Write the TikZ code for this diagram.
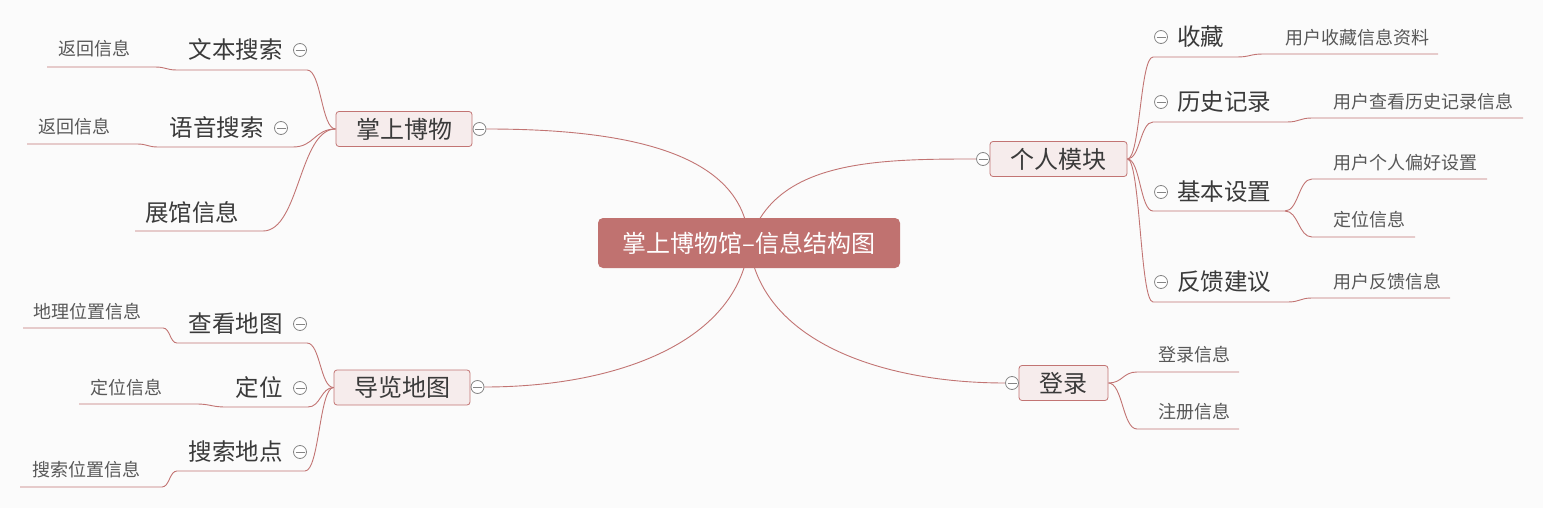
\documentclass[tikz,border=0pt]{standalone}
\usepackage{fontspec}
\setmainfont{Noto Sans CJK SC}
\usetikzlibrary{calc}
\definecolor{bgc}{HTML}{FBFBFB}
\definecolor{linec}{HTML}{C27473}
\definecolor{rootc}{HTML}{C07270}
\definecolor{topicf}{HTML}{F6ECEC}
\definecolor{subt}{HTML}{3A3A3A}
\definecolor{leaft}{HTML}{585858}
\definecolor{foldc}{HTML}{858585}
\pgfdeclarelayer{bglayer}
\pgfdeclarelayer{edgelayer}
\pgfsetlayers{bglayer,edgelayer,main}
\tikzset{
 rootbox/.style={fill=rootc, rounded corners=5pt, text=white, font=\fontsize{24}{24}\selectfont, minimum width=302pt, minimum height=50pt, inner sep=0pt},
 topicbox/.style={fill=topicf, draw=linec, line width=0.8pt, rounded corners=3pt, text=subt, font=\fontsize{24}{24}\selectfont, minimum height=35pt, inner sep=0pt},
 subtext/.style={text=subt, font=\fontsize{23.5}{24}\selectfont, inner sep=0pt},
 leaftext/.style={text=leaft, font=\fontsize{18}{18}\selectfont, inner sep=0pt},
 foldmark/.style={circle, draw=foldc, fill=white, line width=0.8pt, minimum size=13pt, inner sep=0pt,
   path picture={\draw[foldc, line width=0.8pt] ([xshift=-4.5pt]path picture bounding box.center) -- ([xshift=4.5pt]path picture bounding box.center);}},
 link/.style={draw=linec, line width=0.9pt},
 hv/.style={to path={let \p1=(\tikztostart), \p2=(\tikztotarget) in .. controls ({(\x1+\x2)/2},\y1) and ({(\x1+\x2)/2},\y2) .. (\tikztotarget)}},
}
\begin{document}
\begin{tikzpicture}[x=1pt, y=-1pt]
\useasboundingbox (0,0) rectangle (1543,508);
\begin{pgfonlayer}{bglayer}
\fill[bgc] (0,0) rectangle (1543,508);
\end{pgfonlayer}

% root
\node[rootbox] (root) at (749,243) {掌上博物馆–信息结构图};

% topics
\node[topicbox, minimum width=136pt] (t1) at (404,129) {掌上博物};
\node[topicbox, minimum width=137pt] (t2) at (1058.5,159) {个人模块};
\node[topicbox, minimum width=136pt] (t3) at (402,387.5) {导览地图};
\node[topicbox, minimum width=89pt] (t4) at (1063.5,383) {登录};
\node[foldmark] (f1) at (479.5,129) {};
\node[foldmark] (f2) at (983,159) {};
\node[foldmark] (f3) at (477.5,387) {};
\node[foldmark] (f4) at (1012,383) {};

% ---- left top: 掌上博物
\node[subtext, anchor=east] (s11) at (283,50) {文本搜索};
\node[foldmark] (g11) at (300,50) {};
\coordinate (u11s) at (307,70); \coordinate (u11e) at (177,70);
\node[leaftext, anchor=west] (l11) at (58,49) {返回信息};
\coordinate (v11s) at (155,67); \coordinate (v11e) at (47,67);

\node[subtext, anchor=east] (s12) at (264,128) {语音搜索};
\node[foldmark] (g12) at (281,128) {};
\coordinate (u12s) at (293,147); \coordinate (u12e) at (158,147);
\node[leaftext, anchor=west] (l12) at (38,127) {返回信息};
\coordinate (v12s) at (137,144); \coordinate (v12e) at (27,144);

\node[subtext, anchor=west] (s13) at (145,212) {展馆信息};
\coordinate (u13s) at (263,231); \coordinate (u13e) at (135,231);

% ---- left bottom: 导览地图
\node[subtext, anchor=east] (s31) at (283,324) {查看地图};
\node[foldmark] (g31) at (300,324) {};
\coordinate (u31s) at (307,343); \coordinate (u31e) at (177,343);
\node[leaftext, anchor=west] (l31) at (33,312) {地理位置信息};
\coordinate (v31s) at (163,328); \coordinate (v31e) at (23,328);

\node[subtext, anchor=east] (s32) at (283,388) {定位};
\node[foldmark] (g32) at (300,388) {};
\coordinate (u32s) at (308,407); \coordinate (u32e) at (226,407);
\node[leaftext, anchor=west] (l32) at (90,388) {定位信息};
\coordinate (v32s) at (196,404); \coordinate (v32e) at (79,404);

\node[subtext, anchor=east] (s33) at (283,452) {搜索地点};
\node[foldmark] (g33) at (300,452) {};
\coordinate (u33s) at (305,471); \coordinate (u33e) at (177,471);
\node[leaftext, anchor=west] (l33) at (32,470) {搜索位置信息};
\coordinate (v33s) at (162,487); \coordinate (v33e) at (20,487);

% ---- right: 个人模块
\node[foldmark] (g21) at (1161,37) {};
\node[subtext, anchor=west] (s21) at (1177,37) {收藏};
\coordinate (u21s) at (1153,57); \coordinate (u21e) at (1237,57);
\node[leaftext, anchor=west] (l21) at (1285,38) {用户收藏信息资料};
\coordinate (v21s) at (1263,54); \coordinate (v21e) at (1438,54);

\node[foldmark] (g22) at (1161,102) {};
\node[subtext, anchor=west] (s22) at (1177,102) {历史记录};
\coordinate (u22s) at (1153,122); \coordinate (u22e) at (1287,122);
\node[leaftext, anchor=west] (l22) at (1333,102) {用户查看历史记录信息};
\coordinate (v22s) at (1312,118); \coordinate (v22e) at (1523,118);

\node[foldmark] (g23) at (1161,192) {};
\node[subtext, anchor=west] (s23) at (1177,192) {基本设置};
\coordinate (u23s) at (1153,211); \coordinate (u23e) at (1285,211);
\node[leaftext, anchor=west] (l23a) at (1333,163) {用户个人偏好设置};
\coordinate (v23as) at (1312,179); \coordinate (v23ae) at (1487,179);
\node[leaftext, anchor=west] (l23b) at (1333,220) {定位信息};
\coordinate (v23bs) at (1312,237); \coordinate (v23be) at (1415,237);

\node[foldmark] (g24) at (1161,282) {};
\node[subtext, anchor=west] (s24) at (1177,282) {反馈建议};
\coordinate (u24s) at (1153,302); \coordinate (u24e) at (1288,302);
\node[leaftext, anchor=west] (l24) at (1333,282) {用户反馈信息};
\coordinate (v24s) at (1312,298); \coordinate (v24e) at (1450,298);

% ---- 登录
\node[leaftext, anchor=west] (l41) at (1158,355) {登录信息};
\coordinate (v41s) at (1137,372); \coordinate (v41e) at (1239,372);
\node[leaftext, anchor=west] (l42) at (1158,412) {注册信息};
\coordinate (v42s) at (1137,429); \coordinate (v42e) at (1239,429);

\begin{pgfonlayer}{edgelayer}
% root to topics
\draw[link] (root.center) .. controls +(-4,-93) and +(134,0) .. (f1.east);
\draw[link] (root.center) .. controls +(25,-83) and +(-100,0) .. (f2.west);
\draw[link] (root.center) .. controls +(-9,97) and +(136,0) .. (f3.east);
\draw[link] (root.center) .. controls +(11,97) and +(-126,0) .. (f4.west);
% left top
\draw[link] (t1.west) to[hv] (u11s) -- (u11e) to[hv] (v11s) -- (v11e);
\draw[link] (t1.west) to[hv] (u12s) -- (u12e) to[hv] (v12s) -- (v12e);
\draw[link] (t1.west) to[hv] (u13s) -- (u13e);
% left bottom
\draw[link] (t3.west) to[hv] (u31s) -- (u31e) to[hv] (v31s) -- (v31e);
\draw[link] (t3.west) to[hv] (u32s) -- (u32e) to[hv] (v32s) -- (v32e);
\draw[link] (t3.west) to[hv] (u33s) -- (u33e) to[hv] (v33s) -- (v33e);
% right
\draw[link] (t2.east) to[hv] (u21s) -- (u21e) to[hv] (v21s) -- (v21e);
\draw[link] (t2.east) to[hv] (u22s) -- (u22e) to[hv] (v22s) -- (v22e);
\draw[link] (t2.east) to[hv] (u23s) -- (u23e) to[hv] (v23as) -- (v23ae);
\draw[link] (u23e) to[hv] (v23bs) -- (v23be);
\draw[link] (t2.east) to[hv] (u24s) -- (u24e) to[hv] (v24s) -- (v24e);
% 登录
\draw[link] (t4.east) to[hv] (v41s) -- (v41e);
\draw[link] (t4.east) to[hv] (v42s) -- (v42e);
\end{pgfonlayer}
\end{tikzpicture}
\end{document}
